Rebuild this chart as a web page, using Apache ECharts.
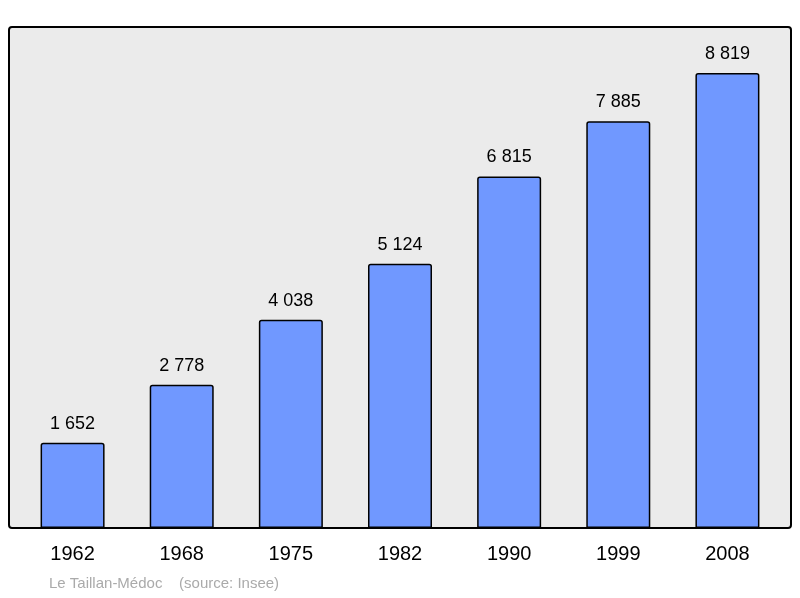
<!DOCTYPE html>
<html>
<head>
<meta charset="utf-8">
<script src="https://cdn.jsdelivr.net/npm/echarts@6/dist/echarts.min.js"></script>
<style>html,body{margin:0;padding:0;background:#fff;}#root{width:800px;height:598px;}</style>
</head>
<body>
<div id="root"></div>
<script>
var years = ['1962', '1968', '1975', '1982', '1990', '1999', '2008'];
var population = [1652, 2778, 4038, 5124, 6815, 7885, 8819];

var fmt = function (v) {
    return String(v).replace(/\B(?=(\d{3})+(?!\d))/g, ' ');
};

var myChart = echarts.init(document.getElementById('root'));
var option = {
    animation: false,
    backgroundColor: '#ffffff',
    graphic: [
        {
            type: 'rect', z: -1, silent: true,
            shape: { x: 9, y: 27, width: 782, height: 501, r: 3 },
            style: { fill: '#ebebeb', stroke: '#000', lineWidth: 2 }
        },
        {
            type: 'text', left: 49, top: 576,
            style: { text: 'Le Taillan-Médoc    (source: Insee)', fill: '#aaaaaa', font: '15px "Liberation Sans", Arial' }
        }
    ],
    grid: { left: 18, right: 18, top: 27, bottom: 70 },
    xAxis: {
        type: 'category',
        data: years,
        axisLine: { show: false },
        axisTick: { show: false },
        axisLabel: { color: '#000', fontSize: 20, fontFamily: 'Liberation Sans', margin: 16 }
    },
    yAxis: {
        type: 'value', min: 0, max: 9711,
        show: false, splitLine: { show: false }
    },
    series: [{
        type: 'bar',
        data: population,
        barWidth: 64,
        itemStyle: { color: '#7098ff', borderColor: '#000', borderWidth: 1.5, borderRadius: [2, 2, 0, 0] },
        label: {
            show: true, position: 'top', distance: 10,
            color: '#000', fontSize: 18, fontFamily: 'Liberation Sans',
            formatter: function (p) { return fmt(p.value); }
        }
    }]
};
option && myChart.setOption(option);
</script>
</body>
</html>
